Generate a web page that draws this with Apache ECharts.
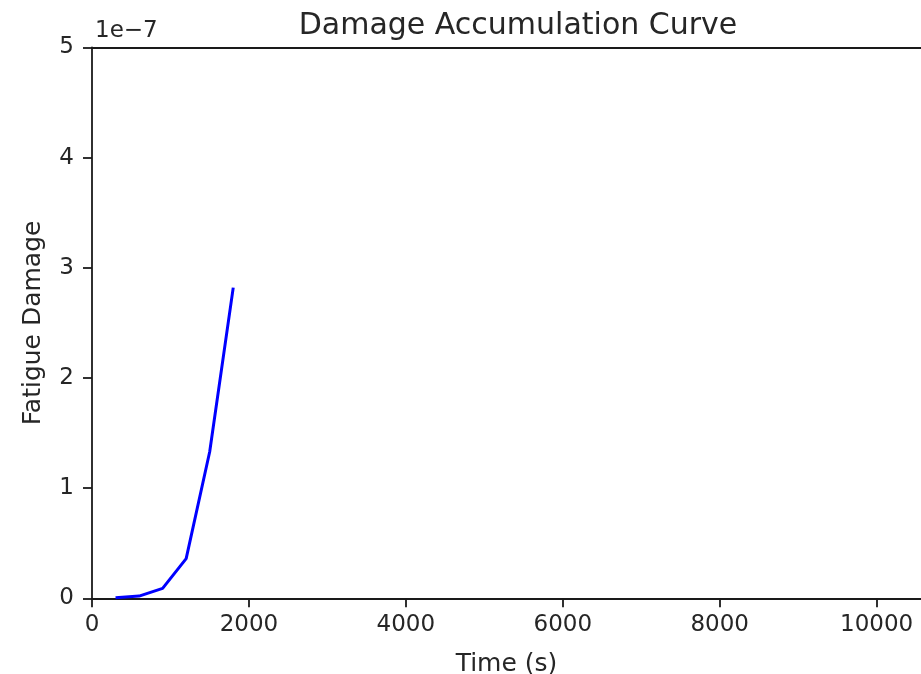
<!DOCTYPE html>
<html>
<head>
<meta charset="utf-8">
<script src="https://cdn.jsdelivr.net/npm/echarts@6/dist/echarts.min.js"></script>
<style>html,body{margin:0;padding:0;background:#fff;}#c{width:921px;height:674px;}</style>
</head>
<body>
<div id="c"></div>
<script>
const timeValues = [300, 600, 900, 1200, 1500, 1800];
const damageValues = [0.005e-7, 0.02e-7, 0.09e-7, 0.36e-7, 1.33e-7, 2.82e-7];
const xTicks = [0, 2000, 4000, 6000, 8000, 10000];
const yTicks = [0, 1, 2, 3, 4, 5];
const yScaleExp = 1e-7;

const FONT = 'DejaVu Sans';
const TXT = '#262626';
const chart = echarts.init(document.getElementById('c'), null, {renderer: 'canvas'});
const axisLineStyle = {color: '#1a1a1a', width: 1.8};
chart.setOption({
  animation: false,
  backgroundColor: '#fff',
  title: {
    text: 'Damage Accumulation Curve',
    left: 513, top: 6, textAlign: 'center',
    textStyle: {fontFamily: FONT, fontSize: 30, fontWeight: 'normal', color: TXT}
  },
  graphic: [{
    type: 'text', left: 95, top: 20,
    style: {text: '1e\u22127', fontFamily: FONT, fontSize: 23, fill: TXT}
  }],
  grid: {left: 92, right: 0, top: 47.5, bottom: 75.7, containLabel: false, outerBoundsMode: 'none'},
  xAxis: [{
    type: 'value', min: 0, max: 10565, interval: 2000,
    name: 'Time (s)', nameLocation: 'middle', nameGap: 54,
    nameTextStyle: {fontFamily: FONT, fontSize: 25, color: TXT},
    axisLine: {show: true, onZero: false, lineStyle: axisLineStyle},
    axisTick: {show: true, length: 9, lineStyle: axisLineStyle},
    axisLabel: {
      fontFamily: FONT, fontSize: 23, color: TXT, margin: 15,
      showMaxLabel: false,
      formatter: v => xTicks.includes(v) ? String(v) : ''
    },
    splitLine: {show: false}
  }, {
    type: 'value', position: 'top', min: 0, max: 10565,
    axisLine: {show: true, onZero: false, lineStyle: axisLineStyle},
    axisTick: {show: false}, axisLabel: {show: false}, splitLine: {show: false}
  }],
  yAxis: {
    type: 'value', min: 0, max: 5 * yScaleExp, interval: yScaleExp,
    name: 'Fatigue Damage', nameLocation: 'middle', nameGap: 46,
    nameTextStyle: {fontFamily: FONT, fontSize: 25, color: TXT},
    axisLine: {show: true, onZero: false, lineStyle: axisLineStyle},
    axisTick: {show: true, length: 9, lineStyle: axisLineStyle},
    axisLabel: {
      fontFamily: FONT, fontSize: 23, color: TXT, margin: 18,
      formatter: v => {
        const k = Math.round(v / yScaleExp);
        return yTicks.includes(k) ? String(k) : '';
      }
    },
    splitLine: {show: false}
  },
  series: [{
    type: 'line',
    xAxisIndex: 0,
    data: timeValues.map((t, i) => [t, damageValues[i]]),
    showSymbol: false,
    lineStyle: {color: '#0000ff', width: 3},
    itemStyle: {color: '#0000ff'}
  }]
});
</script>
</body>
</html>
